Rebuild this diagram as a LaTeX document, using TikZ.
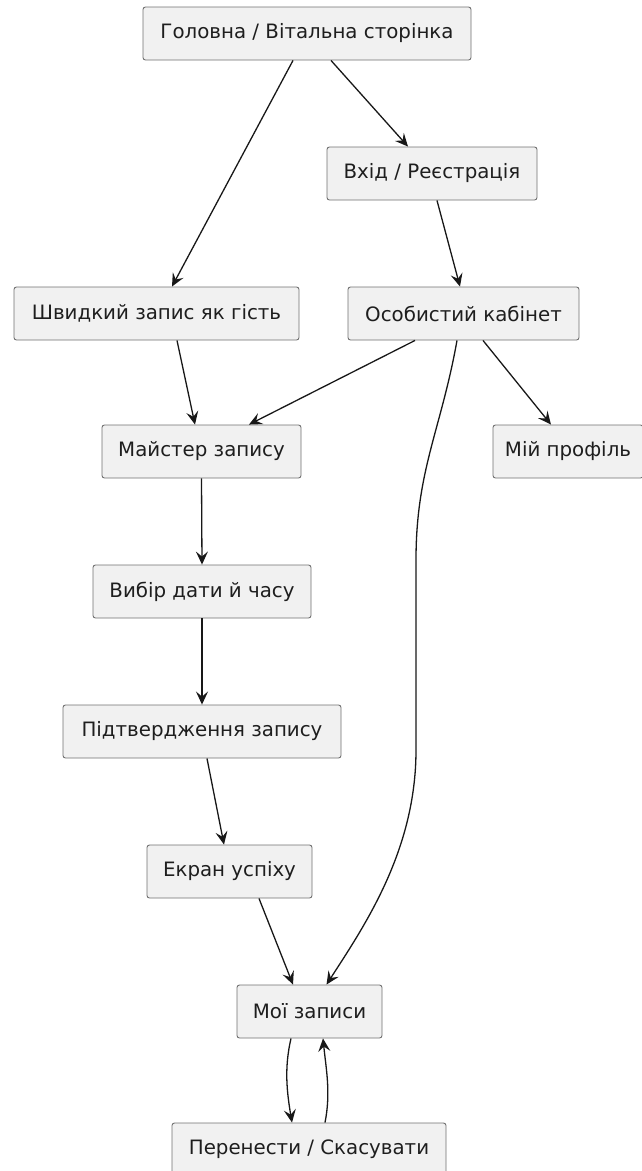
\documentclass[tikz,border=0pt]{standalone}
\usepackage{fontspec}
\setmainfont{DejaVu Sans}
\usetikzlibrary{arrows.meta}
\definecolor{boxfill}{HTML}{F1F1F1}
\definecolor{boxdraw}{HTML}{707070}
\definecolor{edge}{HTML}{181818}
\definecolor{txt}{HTML}{1E1E1E}
\begin{document}
\begin{tikzpicture}[x=1pt,y=-1pt,
  box/.style={draw=boxdraw,fill=boxfill,line width=0.9pt,rounded corners=2.5pt,
    minimum height=53pt,inner sep=0pt,text=txt,font=\fontsize{19.8}{22}\selectfont},
  conn/.style={draw=edge,line width=1.3pt,-{Stealth[length=13pt,width=12pt,inset=5pt]}}]
\useasboundingbox (0,0) rectangle (642,1171);
\node[box,minimum width=328pt] (home) at (307,33.5) {Головна / Вітальна сторінка};
\node[box,minimum width=210pt] (login) at (432,173.5) {Вхід / Реєстрація};
\node[box,minimum width=285pt] (guest) at (156.5,313.5) {Швидкий запис як гість};
\node[box,minimum width=231pt] (cab) at (463.5,313.5) {Особистий кабінет};
\node[box,minimum width=150pt] (prof) at (568,451.5) {Мій профіль};
\node[box,minimum width=199pt] (wiz) at (201.5,451.5) {Майстер запису};
\node[box,minimum width=218pt] (date) at (202,591.5) {Вибір дати й часу};
\node[box,minimum width=278pt] (conf) at (202,731.5) {Підтвердження запису};
\node[box,minimum width=165pt] (succ) at (229.5,871.5) {Екран успіху};
\node[box,minimum width=145pt] (my) at (309.5,1011.5) {Мої записи};
\node[box,minimum width=274pt] (resc) at (309,1149.5) {Перенести / Скасувати};

\draw[conn] ([xshift=-14pt]home.south) -- ([xshift=15.5pt]guest.north);
\draw[conn] ([xshift=24pt]home.south) -- ([xshift=-24pt]login.north);
\draw[conn] ([xshift=5pt]login.south) -- ([xshift=-3.5pt]cab.north);
\draw[conn] ([xshift=20.5pt]guest.south) -- ([xshift=-6.5pt]wiz.north);
\draw[conn] ([xshift=-48.5pt]cab.south) -- ([xshift=47.5pt]wiz.north);
\draw[conn] ([xshift=-6.5pt]cab.south) .. controls (441,430) and (416,470) .. (416,560)
   -- (416,750) .. controls (416,850) and (365,925) .. ([xshift=17pt]my.north);
\draw[conn] ([xshift=19.5pt]cab.south) -- ([xshift=-17pt]prof.north);
\draw[conn] (wiz.south) -- (date.north);
\draw[conn] (date.south) -- (conf.north);
\draw[conn] ([xshift=5pt]conf.south) -- ([xshift=-5.5pt]succ.north);
\draw[conn] ([xshift=29.5pt]succ.south) -- ([xshift=-16.5pt]my.north);
\draw[conn] ([xshift=-18.5pt]my.south) .. controls +(-7,30) and +(-5,-30) .. ([xshift=-17pt]resc.north);
\draw[conn] ([xshift=16pt]resc.north) .. controls +(6,-30) and +(3,30) .. ([xshift=13.5pt]my.south);
\end{tikzpicture}
\end{document}
